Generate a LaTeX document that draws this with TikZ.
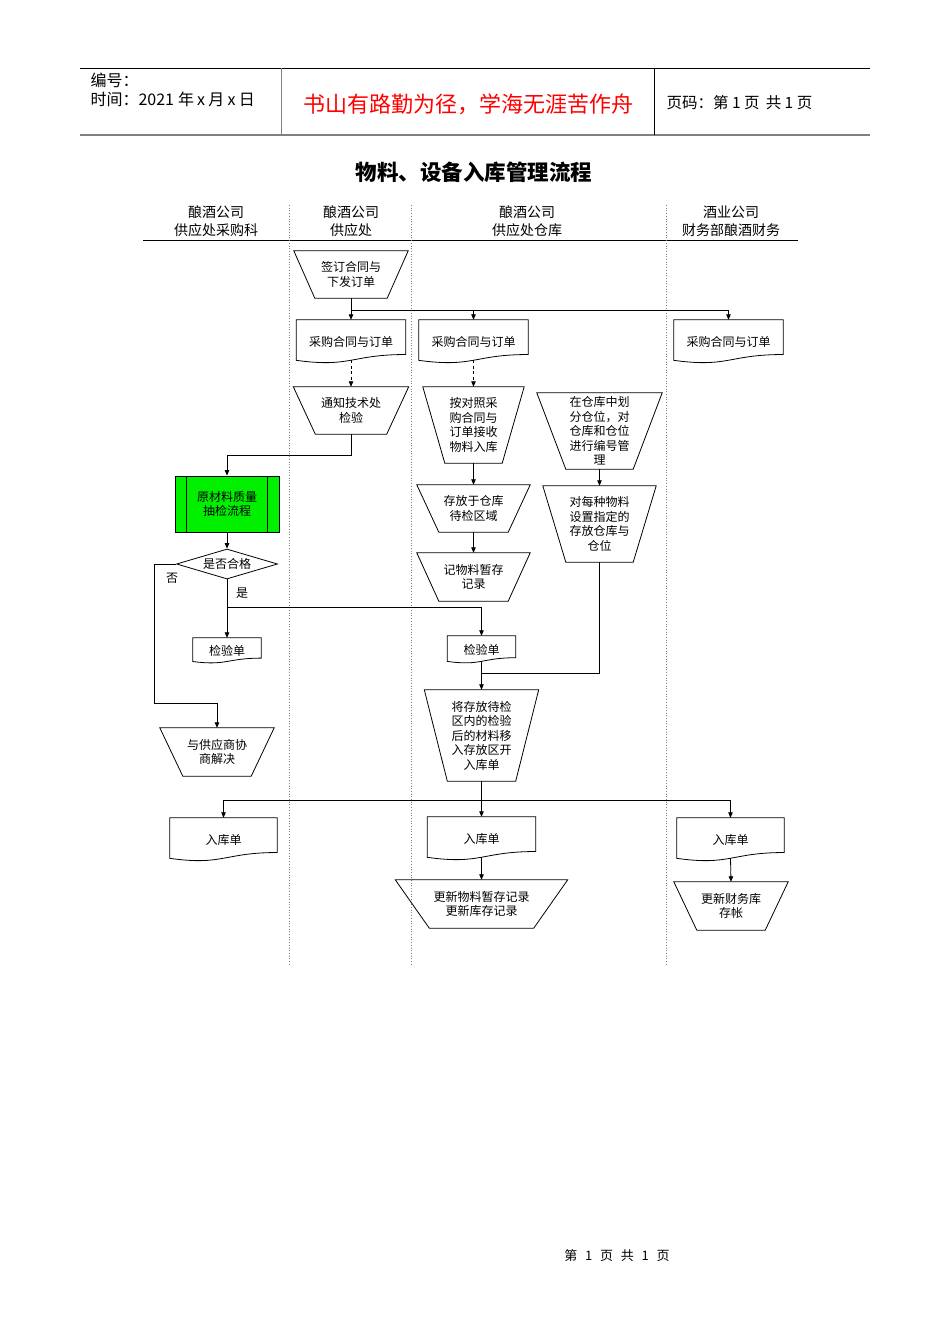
\documentclass[tikz,border=0pt]{standalone}
\usepackage{fontspec}
\setmainfont{Noto Sans CJK SC}
\usetikzlibrary{shapes.geometric,arrows.meta,calc}
\definecolor{procgreen}{HTML}{00F000}
\definecolor{hdrgray}{HTML}{808080}
\tikzset{
  ln/.style={line width=0.8pt},
  arr/.style={ln,-{Triangle[length=5.5pt,width=4.5pt]}},
  darr/.style={arr,dash pattern=on 3pt off 2.5pt},
  box/.style={inner sep=0pt, align=center, font=\fontsize{12}{14.5}\selectfont},
  lanehdr/.style={align=center, font=\fontsize{14}{18}\selectfont},
  lanesep/.style={hdrgray, line width=0.7pt, dotted},
}
\newcommand{\trapout}[2]{\draw[ln] (#1.north west) -- (#1.north east) -- ([xshift=-#2pt]#1.south east) -- ([xshift=#2pt]#1.south west) -- cycle;}
\newcommand{\docout}[1]{\draw[ln] (#1.north west) -- (#1.north east) -- ($(#1.north east)!0.80!(#1.south east)$) .. controls ($(#1.north)!0.80!(#1.south)$) and ($(#1.north)!1.107!(#1.south)$) .. ($(#1.north west)!0.934!(#1.south west)$) -- cycle;}
\begin{document}
\begin{tikzpicture}[x=1pt,y=-1pt]
\useasboundingbox (0,0) rectangle (950,1344);
% header
\coordinate (h1) at (80,68); \coordinate (h2) at (870,68);
\coordinate (h3) at (80,135); \coordinate (h4) at (870,135);
\draw[line width=0.8pt] (h1) -- (h2);
\draw[hdrgray, line width=1.6pt] (h3) -- (h4);
\coordinate (v1a) at (281,68); \coordinate (v1b) at (281,135);
\coordinate (v2a) at (654,68); \coordinate (v2b) at (654,135);
\draw[hdrgray, line width=0.9pt] (v1a) -- (v1b);
\draw[line width=0.8pt] (v2a) -- (v2b);
\node[anchor=west, align=left, font=\fontsize{16}{19}\selectfont] (hleft) at (87,89.5) {编号：\\时间：2021\hspace{0.25em}年\hspace{0.2em}x\hspace{0.2em}月\hspace{0.2em}x\hspace{0.2em}日};
\node[text=red, font=\fontsize{22}{24}\selectfont] (motto) at (468,104) {书山有路勤为径，学海无涯苦作舟};
\node[anchor=west, font=\fontsize{15.5}{19}\selectfont] (hpage) at (663,103) {页码：第 1 页\hspace{0.4em}共 1 页};
% title
\node[font=\fontsize{21.5}{24}\selectfont\bfseries] (title) at (474,172) {物料、设备入库管理流程};
% lanes
\node[lanehdr] (L1) at (216,221) {酿酒公司\\供应处采购科};
\node[lanehdr] (L2) at (351,221) {酿酒公司\\供应处};
\node[lanehdr] (L3) at (527,221) {酿酒公司\\供应处仓库};
\node[lanehdr] (L4) at (731,221) {酒业公司\\财务部酿酒财务};
\coordinate (lh1) at (143,240); \coordinate (lh2) at (798,240);
\draw[line width=0.8pt] (lh1) -- (lh2);
\foreach \xx in {289,411,666} {\draw[lanesep] (\xx,205) -- (\xx,965);}
% nodes lane 2
\node[box, minimum width=114pt, minimum height=47pt] (s1) at (351,274.5) {签订合同与\\下发订单};
\trapout{s1}{21}
\node[box, minimum width=109pt, minimum height=43pt] (d2a) at (351,341.5) {采购合同与订单};
\docout{d2a}
\node[box, minimum width=115pt, minimum height=47pt] (t2) at (351,410.5) {通知技术处\\检验};
\trapout{t2}{22}
% lane 3 / 4 docs
\node[box, minimum width=109pt, minimum height=43pt] (d3a) at (473.5,341.5) {采购合同与订单};
\docout{d3a}
\node[box, minimum width=109pt, minimum height=43pt] (d4a) at (728.5,341.5) {采购合同与订单};
\docout{d4a}
% lane 3 chain
\node[box, minimum width=101pt, minimum height=76pt] (r1) at (473.5,425) {按对照采\\购合同与\\订单接收\\物料入库};
\trapout{r1}{22}
\node[box, minimum width=113pt, minimum height=47pt] (r2) at (473.5,508.5) {存放于仓库\\待检区域};
\trapout{r2}{22}
\node[box, minimum width=113pt, minimum height=48pt] (r3) at (473.5,577) {记物料暂存\\记录};
\trapout{r3}{22}
\node[box, minimum width=125pt, minimum height=76pt] (w1) at (599.5,431) {在仓库中划\\分仓位，对\\仓库和仓位\\进行编号管\\理};
\trapout{w1}{29}
\node[box, minimum width=113pt, minimum height=76pt] (w2) at (599.5,524) {对每种物料\\设置指定的\\存放仓库与\\仓位};
\trapout{w2}{23}
% lane 1
\node[box, draw, ln, fill=procgreen, minimum width=104pt, minimum height=56pt] (g) at (227,504) {原材料质量\\抽检流程};
\draw[ln] ([xshift=12pt]g.north west) -- ([xshift=12pt]g.south west);
\draw[ln] ([xshift=-12pt]g.north east) -- ([xshift=-12pt]g.south east);
\node[box, diamond, aspect=3.4, draw, ln, minimum width=101pt, minimum height=30pt] (dm) at (227,564) {是否合格};
\node[box, minimum width=68pt, minimum height=25pt] (c1) at (227,650.5) {检验单};
\docout{c1}
\node[box, minimum width=114pt, minimum height=48pt] (neg) at (217,752) {与供应商协\\商解决};
\trapout{neg}{23}
\node[box, minimum width=68pt, minimum height=27pt] (c3) at (481.5,649.5) {检验单};
\docout{c3}
\node[box, minimum width=114pt, minimum height=91pt] (m1) at (481.5,735.5) {将存放待检\\区内的检验\\后的材料移\\入存放区开\\入库单};
\trapout{m1}{23}
\node[box, minimum width=107pt, minimum height=43pt] (f1) at (223.5,839.5) {入库单};
\docout{f1}
\node[box, minimum width=108pt, minimum height=43pt] (f3) at (481.5,838.5) {入库单};
\docout{f3}
\node[box, minimum width=107pt, minimum height=43pt] (f4) at (730.5,839.5) {入库单};
\docout{f4}
\node[box, minimum width=172pt, minimum height=48pt] (u3) at (481.5,904) {更新物料暂存记录\\更新库存记录};
\trapout{u3}{34}
\node[box, minimum width=114pt, minimum height=48pt] (u4) at (731,906) {更新财务库\\存帐};
\trapout{u4}{23}
% labels
\node[box] (lno) at (172,578) {否};
\node[box] (lyes) at (242,593) {是};
% junctions
\coordinate (j1) at (351,310);
\coordinate (j2) at (351,455);
\coordinate (n1) at (154,564);
\coordinate (n2) at (154,703);
\coordinate (j4) at (227,607);
\coordinate (j5) at (481.5,673);
\coordinate (j6) at (481.5,800);
% connectors
\draw[ln] (s1.south) -- (j1);
\draw[arr] (j1) -- (d2a.north);
\draw[arr] (j1) -| (d3a.north);
\draw[arr] (j1) -| (d4a.north);
\draw[darr] ($(d2a.north)!0.93!(d2a.south)$) -- (t2.north);
\draw[darr] ($(d3a.north)!0.93!(d3a.south)$) -- (r1.north);
\draw[arr] (t2.south) -- (j2) -| (g.north);
\draw[arr] (g.south) -- (dm.north);
\draw[arr] (dm.west) -- (n1) -- (n2) -| (neg.north);
\draw[ln] (dm.south) -- (j4);
\draw[arr] (j4) -- (c1.north);
\draw[arr] (j4) -| (c3.north);
\draw[arr] (r1.south) -- (r2.north);
\draw[arr] (r2.south) -- (r3.north);
\draw[arr] (w1.south) -- (w2.north);
\draw[ln] (w2.south) |- (j5);
\draw[arr] ($(c3.north)!0.93!(c3.south)$) -- (m1.north);
\draw[ln] (m1.south) -- (j6);
\draw[arr] (j6) -- (f3.north);
\draw[arr] (j6) -| (f1.north);
\draw[arr] (j6) -| (f4.north);
\draw[arr] ($(f3.north)!0.93!(f3.south)$) -- (u3.north);
\draw[arr] ($(f4.north)!0.93!(f4.south)$) -- (u4.north);
% footer
\node[font=\fontsize{13}{15}\selectfont] (foot) at (617,1256) {第\hspace{0.6em}1\hspace{0.6em}页\hspace{0.6em}共\hspace{0.6em}1\hspace{0.6em}页};
\end{tikzpicture}
\end{document}
